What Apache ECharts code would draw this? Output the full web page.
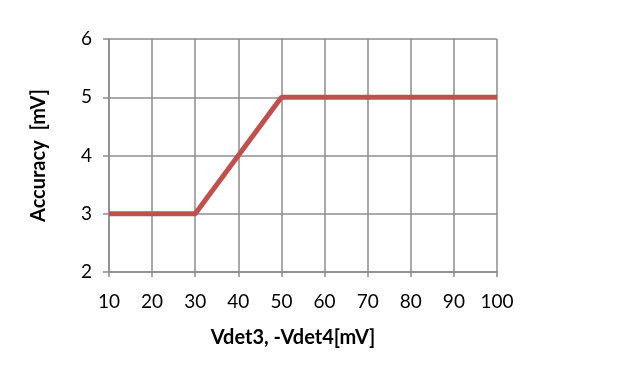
<!DOCTYPE html>
<html>
<head>
<meta charset="utf-8">
<script src="https://cdn.jsdelivr.net/npm/echarts@6/dist/echarts.min.js"></script>
<style>
  html, body { margin: 0; padding: 0; background: #fff; }
  #chart { width: 640px; height: 379px; }
</style>
</head>
<body>
<div id="chart"></div>
<script>
// values
var vdet = [10, 20, 30, 40, 50, 60, 70, 80, 90, 100]
var accuracy = [3, 3, 3, 4, 5, 5, 5, 5, 5, 5]
var xTitle = 'Vdet3, -Vdet4[mV]'
var yTitle = 'Accuracy  [mV]'

var points = vdet.map(function (v, i) { return [v, accuracy[i]] })
var gridColor = '#8c8c8c'
var font = 'Lato, "Open Sans", sans-serif'

var myChart = echarts.init(document.getElementById('chart'), null, { renderer: 'canvas' })
var option = {
  animation: false,
  grid: { left: 109, right: 143, top: 39, bottom: 107 },
  xAxis: {
    type: 'value',
    min: 10,
    max: 100,
    interval: 10,
    name: xTitle,
    nameLocation: 'middle',
    nameGap: 56,
    nameTextStyle: { fontFamily: font, fontSize: 20, fontWeight: 'bold', color: '#000', padding: [0, 20, 0, 0] },
    axisLine: { show: true, lineStyle: { color: gridColor, width: 1.5 } },
    axisTick: { show: true, length: 5, lineStyle: { color: gridColor, width: 1.5 } },
    axisLabel: { fontFamily: font, fontSize: 19, color: '#000', margin: 20 },
    splitLine: { show: true, lineStyle: { color: gridColor, width: 1.5 } }
  },
  yAxis: {
    type: 'value',
    min: 2,
    max: 6,
    interval: 1,
    name: yTitle,
    nameLocation: 'middle',
    nameGap: 60,
    nameTextStyle: { fontFamily: font, fontSize: 20, fontWeight: 'bold', color: '#000' },
    axisLine: { show: true, lineStyle: { color: gridColor, width: 1.5 } },
    axisTick: { show: true, length: 6, lineStyle: { color: gridColor, width: 1.5 } },
    axisLabel: { fontFamily: font, fontSize: 19, color: '#000', margin: 17 },
    splitLine: { show: true, lineStyle: { color: gridColor, width: 1.5 } }
  },
  series: [
    {
      type: 'line',
      data: points,
      symbol: 'none',
      lineStyle: { color: '#c0504d', width: 5 },
      z: 3
    }
  ]
}
myChart.setOption(option, true)
</script>
</body>
</html>
